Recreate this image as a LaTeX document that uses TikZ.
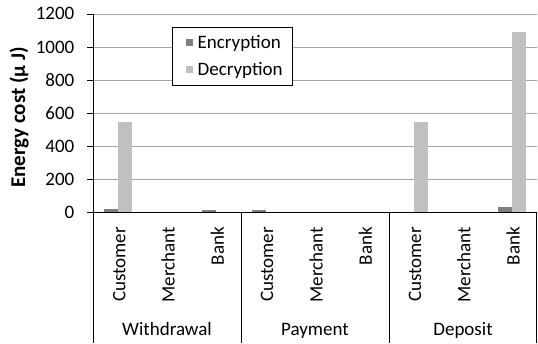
\documentclass[tikz,border=0pt]{standalone}
\usepackage{fontspec}
\setmainfont{Carlito}
\definecolor{enccol}{HTML}{7F7F7F}
\definecolor{deccol}{HTML}{C0C0C0}
\definecolor{gridcol}{HTML}{A6A6A6}
\begin{document}
\begin{tikzpicture}[x=1pt,y=-1pt,
  gridline/.style={draw=gridcol,line width=0.9pt},
  axisline/.style={draw=black,line width=0.9pt},
  lbl/.style={font=\fontsize{19}{21}\selectfont,inner sep=0pt,text height=12pt,text depth=0pt},
  encbar/.style={fill=enccol},
  decbar/.style={fill=deccol},
  legendbox/.style={draw=black,fill=white,line width=0.9pt}]
\useasboundingbox (0,0) rectangle (538,343);
% grid
\foreach \v in {200,400,...,1200}
  \draw[gridline] (93.3,{212.3-\v*0.16525}) -- (537,{212.3-\v*0.16525});
% bars
\foreach \i/\e/\d in {0/18/547,1/0/0,2/15/0,3/15/0,4/0/0,5/0/0,6/0/547,7/0/0,8/30/1090}{
  \pgfmathsetmacro\c{93.3+49.27*(\i+0.5)}
  \ifnum\e>0 \fill[encbar] ({\c-14},212.3) rectangle (\c,{212.3-\e*0.16525}); \fi
  \ifnum\d>0 \fill[decbar] (\c,212.3) rectangle ({\c+14.3},{212.3-\d*0.16525}); \fi
}
% axes
\draw[axisline] (93.3,14) -- (93.3,343);
\foreach \v in {0,200,...,1200}{
  \draw[axisline] (87.3,{212.3-\v*0.16525}) -- (93.3,{212.3-\v*0.16525});
  \node[lbl,anchor=east] (tick\v) at (74.5,{212.3-\v*0.16525}) {\v};
}
\draw[axisline] (87.3,212.3) -- (536.7,212.3);
\foreach \x in {241,389.3,536.7}
  \draw[axisline] (\x,212.3) -- (\x,343);
% sub-category labels
\foreach \i/\t in {0/Customer,1/Merchant,2/Bank,3/Customer,4/Merchant,5/Bank,6/Customer,7/Merchant,8/Bank}
  \node[lbl,rotate=90,anchor=east] (sub\i) at ({93.3+49.27*(\i+0.5)+1.5},227) {\t};
% category labels
\node[lbl] (catw) at (167,329.5) {Withdrawal};
\node[lbl] (catp) at (315,329.5) {Payment};
\node[lbl] (catd) at (463,329.5) {Deposit};
% y-axis title
\node[lbl,rotate=90,font=\fontsize{21}{23}\selectfont\bfseries] (ytitle) at (19,117.5) {Energy cost (µ J)};
% legend
\draw[legendbox] (172,27.3) rectangle (292.3,85.7);
\fill[encbar] (186,39) rectangle (193.3,46.3);
\fill[decbar] (186,65.6) rectangle (193.3,72.9);
\node[lbl,anchor=west] (legenc) at (197.5,42.5) {Encryption};
\node[lbl,anchor=west] (legdec) at (197.5,69.2) {Decryption};
\end{tikzpicture}
\end{document}
